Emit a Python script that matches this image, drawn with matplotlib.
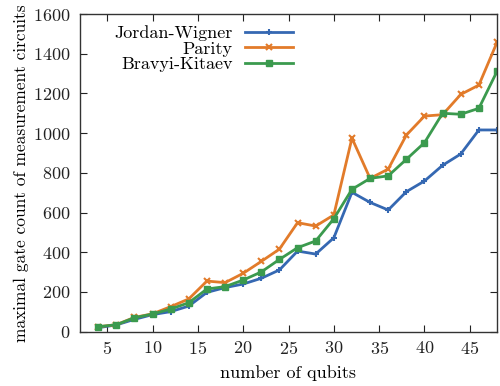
import matplotlib.pyplot as plt

plt.rcParams["font.family"] = ["cmr10", "DejaVu Serif"]
plt.rcParams["axes.formatter.use_mathtext"] = True
plt.rcParams["font.size"] = 13

qubits = [4, 6, 8, 10, 12, 14, 16, 18, 20, 22, 24, 26, 28, 30, 32, 34, 36, 38, 40, 42, 44, 46, 48]
jordan_wigner = [20, 34, 62, 86, 101, 129, 198, 222, 240, 269, 311, 406, 391, 473,
                 702, 651, 613, 705, 759, 838, 895, 1016, 1016]
parity = [25, 35, 72, 90, 126, 165, 255, 247, 294, 354, 416, 549, 532, 588,
          975, 772, 819, 990, 1086, 1093, 1195, 1242, 1457]
bravyi_kitaev = [25, 35, 70, 89, 114, 146, 215, 227, 260, 301, 364, 423, 457, 569,
                 717, 772, 785, 868, 952, 1100, 1095, 1125, 1311]

BLUE = "#3568b2"
ORANGE = "#e27b2a"
GREEN = "#3b9a4e"

fig = plt.figure(figsize=(5.0, 3.86), dpi=100)
ax = fig.add_axes([0.16, 0.1407, 0.834, 0.823])

ax.plot(qubits, jordan_wigner, "-", marker="+", ms=5, mew=1.5, lw=2, color=BLUE, label="Jordan-Wigner")
ax.plot(qubits, parity, "-", marker="x", ms=5, mew=1.5, lw=2, color=ORANGE, label="Parity")
ax.plot(qubits, bravyi_kitaev, "-", marker="s", ms=4, mew=1, lw=2, color=GREEN, label="Bravyi-Kitaev")

ax.set_xlim(2, 48)
ax.set_ylim(0, 1600)
ax.set_xticks([5, 10, 15, 20, 25, 30, 35, 40, 45])
ax.set_yticks(range(0, 1601, 200))
ax.tick_params(direction="in", top=True, right=True, length=5, width=0.8, colors="#222222", labelsize=13)
ax.tick_params(axis="y", pad=7)
ax.tick_params(axis="x", pad=6)
for sp in ax.spines.values():
    sp.set_color("#333333")
    sp.set_linewidth(1.0)

ax.set_xlabel("number of qubits", fontsize=13, labelpad=6)
ax.set_ylabel("maximal gate count of measurement circuits", fontsize=12.5, labelpad=3)

ax.legend(loc="upper right", bbox_to_anchor=(0.511, 0.965), borderpad=0, borderaxespad=0,
          markerfirst=False, frameon=False, fontsize=13, handlelength=2.67,
          labelspacing=0.0, handletextpad=0.67)

fig.savefig("out.png", dpi=100)
